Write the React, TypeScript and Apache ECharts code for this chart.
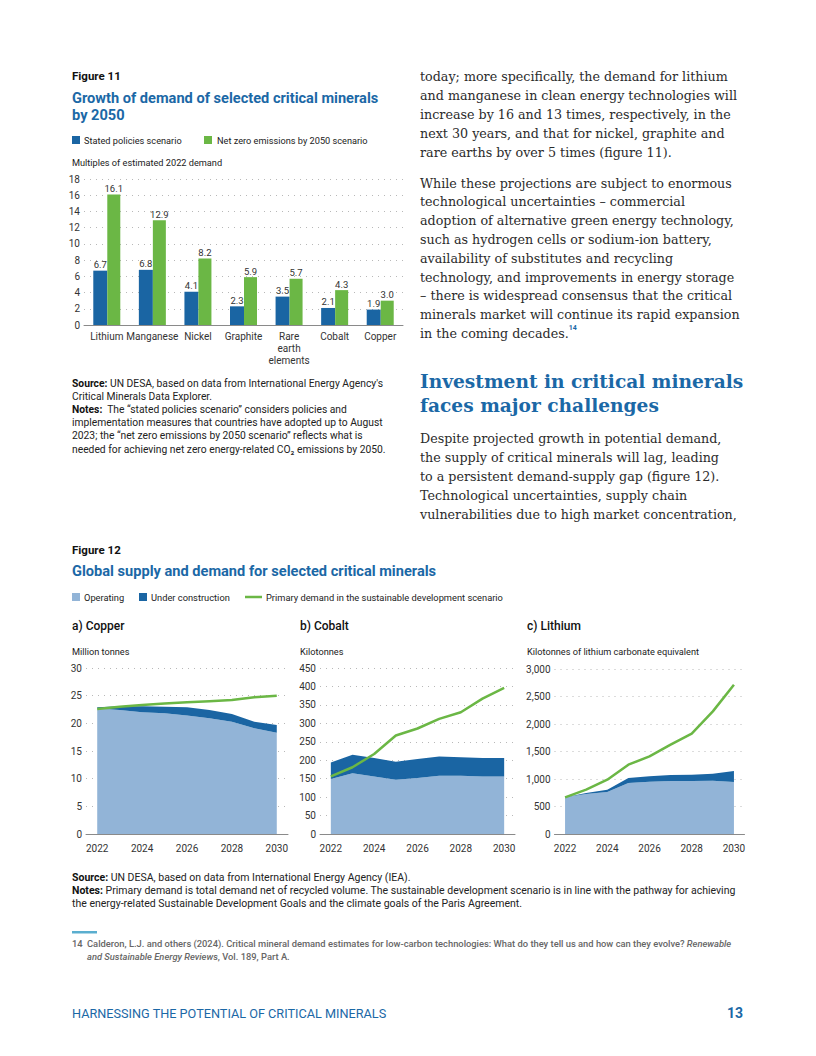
import React, { useEffect, useRef } from "react";
import * as echarts from "echarts";

// ---------- Figure 11 data ----------
const fig11Categories = ["Lithium", "Manganese", "Nickel", "Graphite", "Rare\nearth\nelements", "Cobalt", "Copper"];
const statedPolicies = [6.7, 6.8, 4.1, 2.3, 3.5, 2.1, 1.9];
const netZero = [16.1, 12.9, 8.2, 5.9, 5.7, 4.3, 3.0];

// ---------- Figure 12 data ----------
const years = ["2022", "2023", "2024", "2025", "2026", "2027", "2028", "2029", "2030"];
const copperOperating = [22.7, 22.4, 22.0, 21.8, 21.4, 20.9, 20.3, 19.1, 18.3];
const copperUnderConstruction = [0.2, 0.7, 1.1, 1.2, 1.5, 1.5, 1.4, 1.2, 1.4];
const copperDemand = [22.6, 23.0, 23.3, 23.6, 23.8, 24.0, 24.2, 24.7, 25.0];
const cobaltOperating = [149, 165, 156, 147, 152, 158, 158, 156, 156];
const cobaltUnderConstruction = [45, 50, 50, 49, 51, 52, 50, 50, 50];
const cobaltDemand = [156, 181, 217, 267, 286, 312, 330, 367, 396];
const lithiumOperating = [667, 727, 764, 927, 951, 964, 964, 966, 945];
const lithiumUnderConstruction = [0, 18, 42, 91, 97, 109, 115, 131, 200];
const lithiumDemand = [667, 806, 988, 1260, 1412, 1624, 1824, 2230, 2715];

// ---------- Page text ----------
const para1 = [
  "today; more specifically, the demand for lithium",
  "and manganese in clean energy technologies will",
  "increase by 16 and 13 times, respectively, in the",
  "next 30 years, and that for nickel, graphite and",
  "rare earths by over 5 times (figure 11).",
];
const para2 = [
  "While these projections are subject to enormous",
  "technological uncertainties – commercial",
  "adoption of alternative green energy technology,",
  "such as hydrogen cells or sodium-ion battery,",
  "availability of substitutes and recycling",
  "technology, and improvements in energy storage",
  "– there is widespread consensus that the critical",
  "minerals market will continue its rapid expansion",
];
const para2Last = "in the coming decades.";
const heading = ["Investment in critical minerals", "faces major challenges"];
const para3 = [
  "Despite projected growth in potential demand,",
  "the supply of critical minerals will lag, leading",
  "to a persistent demand-supply gap (figure 12).",
  "Technological uncertainties, supply chain",
  "vulnerabilities due to high market concentration,",
];

const BLUE = "#1b68a6";
const DARK = "#1a65a3";
const LIGHT = "#92b4d7";
const GREEN = "#6bb745";
const SANS = "Roboto, 'Noto Sans', sans-serif";
const SERIF = "'DejaVu Serif', 'Liberation Serif', serif";
const GRID_LINE = { show: true, lineStyle: { type: [1, 5] as any, color: "#b8b8b8", width: 1 } };

function txt(text: string, x: number, y: number, o: any = {}) {
  return {
    type: "text",
    silent: true,
    style: {
      text,
      x,
      y,
      fill: o.fill || "#222",
      fontSize: o.fontSize || 9,
      fontFamily: o.fontFamily || SANS,
      fontWeight: o.fontWeight || "normal",
      fontStyle: o.fontStyle || "normal",
      textAlign: o.align || "left",
      textVerticalAlign: "middle",
      rich: o.rich,
    },
  };
}

function rect(x: number, y: number, w: number, h: number, fill: string) {
  return { type: "rect", silent: true, shape: { x, y, width: w, height: h }, style: { fill } };
}

function areaChart(idx: number, op: number[], uc: number[], dem: number[], stack: string) {
  return [
    {
      name: "Operating",
      type: "line",
      xAxisIndex: idx,
      yAxisIndex: idx,
      stack,
      data: op,
      symbol: "none",
      lineStyle: { width: 0 },
      areaStyle: { color: LIGHT, opacity: 1 },
      z: 2,
    },
    {
      name: "Under construction",
      type: "line",
      xAxisIndex: idx,
      yAxisIndex: idx,
      stack,
      data: uc,
      symbol: "none",
      lineStyle: { width: 0 },
      areaStyle: { color: DARK, opacity: 1 },
      z: 2,
    },
    {
      name: "Primary demand",
      type: "line",
      xAxisIndex: idx,
      yAxisIndex: idx,
      data: dem,
      symbol: "none",
      lineStyle: { width: 2.5, color: GREEN },
      z: 5,
    },
  ];
}

export default function App() {
  const ref = useRef<HTMLDivElement>(null);
  useEffect(() => {
    if (!ref.current) return;
    const chart = echarts.init(ref.current, undefined, { renderer: "svg" });

    const axisLabelStyle = { color: "#333", fontSize: 10, fontFamily: SANS };
    const catAxis = (gridIndex: number, data: string[], extra: any = {}) => ({
      type: "category",
      gridIndex,
      data,
      boundaryGap: true,
      axisTick: { show: false },
      axisLine: { show: true, lineStyle: { color: "#8a8a8a", width: 1 } },
      axisLabel: { ...axisLabelStyle, ...extra },
    });
    const valAxis = (gridIndex: number, max: number, interval: number, fmt?: any) => ({
      type: "value",
      gridIndex,
      min: 0,
      max,
      interval,
      axisLine: { show: false },
      axisTick: { show: false },
      splitLine: GRID_LINE,
      axisLabel: { ...axisLabelStyle, margin: 4, formatter: fmt },
    });

    const graphics: any[] = [];
    // Figure 11 header
    graphics.push(txt("Figure 11", 72, 76, { fontSize: 11.5, fontWeight: "bold", fill: "#111" }));
    graphics.push(txt("Growth of demand of selected critical minerals", 72, 98, { fontSize: 14.6, fontWeight: "bold", fill: BLUE }));
    graphics.push(txt("by 2050", 72, 115, { fontSize: 14.6, fontWeight: "bold", fill: BLUE }));
    graphics.push(rect(72, 136, 8, 8, DARK));
    graphics.push(txt("Stated policies scenario", 84, 140.5, { fontSize: 9.2 }));
    graphics.push(rect(204, 136, 8, 8, GREEN));
    graphics.push(txt("Net zero emissions by 2050 scenario", 217, 140.5, { fontSize: 9.2 }));
    graphics.push(txt("Multiples of estimated 2022 demand", 72, 162, { fontSize: 9.2 }));
    // Figure 11 source
    const SRC11 = 10.3;
    const bRich = { b: { fontWeight: "bold", fontSize: SRC11, fontFamily: SANS, fill: "#111" } };
    const f11src = [
      "{b|Source:} UN DESA, based on data from International Energy Agency's",
      "Critical Minerals Data Explorer.",
      "{b|Notes:}  The “stated policies scenario” considers policies and",
      "implementation measures that countries have adopted up to August",
      "2023; the “net zero emissions by 2050 scenario” reflects what is",
      "needed for achieving net zero energy-related CO₂ emissions by 2050.",
    ];
    f11src.forEach((l, i) => graphics.push(txt(l, 72, 383 + i * 13.2, { fontSize: SRC11, rich: bRich })));

    // Right column body text
    const BODY = 12.7;
    const bodyOpt = { fontSize: BODY, fontFamily: SERIF, fill: "#2b2b2b" };
    para1.forEach((l, i) => graphics.push(txt(l, 420, 76 + i * 19.2, bodyOpt)));
    para2.forEach((l, i) => graphics.push(txt(l, 420, 183 + i * 18.8, bodyOpt)));
    graphics.push(
      txt("{n|" + para2Last + "}{s|14}", 420, 333, {
        ...bodyOpt,
        rich: {
          n: { fontSize: BODY, fontFamily: SERIF, fill: "#2b2b2b", lineHeight: 17 },
          s: { fontSize: 7, fontFamily: SANS, fontWeight: "bold", fill: BLUE, color: BLUE, verticalAlign: "top", lineHeight: 17 },
        },
      })
    );
    heading.forEach((l, i) => graphics.push(txt(l, 420, 381 + i * 24, { fontSize: 18.6, fontFamily: SERIF, fontWeight: "bold", fill: BLUE })));
    para3.forEach((l, i) => graphics.push(txt(l, 420, 438 + i * 19, bodyOpt)));

    // Figure 12 header
    graphics.push(txt("Figure 12", 72, 550, { fontSize: 11.5, fontWeight: "bold", fill: "#111" }));
    graphics.push(txt("Global supply and demand for selected critical minerals", 72, 571, { fontSize: 14.6, fontWeight: "bold", fill: BLUE }));
    graphics.push(rect(72, 593, 8, 8, LIGHT));
    graphics.push(txt("Operating", 84, 597.5, { fontSize: 9.3 }));
    graphics.push(rect(139, 593, 8, 8, DARK));
    graphics.push(txt("Under construction", 151, 597.5, { fontSize: 9.3 }));
    graphics.push({ type: "line", silent: true, shape: { x1: 245, y1: 597, x2: 262, y2: 597 }, style: { stroke: GREEN, lineWidth: 2.5 } });
    graphics.push(txt("Primary demand in the sustainable development scenario", 266, 597.5, { fontSize: 9.3 }));
    graphics.push(txt("a) Copper", 72, 626, { fontSize: 12, fontWeight: 500, fill: "#111" }));
    graphics.push(txt("b) Cobalt", 300, 626, { fontSize: 12, fontWeight: 500, fill: "#111" }));
    graphics.push(txt("c) Lithium", 527, 626, { fontSize: 12, fontWeight: 500, fill: "#111" }));
    graphics.push(txt("Million tonnes", 72, 651, { fontSize: 9.2 }));
    graphics.push(txt("Kilotonnes", 300, 651, { fontSize: 9.2 }));
    graphics.push(txt("Kilotonnes of lithium carbonate equivalent", 527, 651, { fontSize: 9.2 }));

    // Figure 12 source
    const SRC12 = 10.5;
    const f12src = [
      "{b|Source:} UN DESA, based on data from International Energy Agency (IEA).",
      "{b|Notes:} Primary demand is total demand net of recycled volume. The sustainable development scenario is in line with the pathway for achieving",
      "the energy-related Sustainable Development Goals and the climate goals of the Paris Agreement.",
    ];
    f12src.forEach((l, i) => graphics.push(txt(l, 72, 877 + i * 13, { fontSize: SRC12, rich: { b: { fontWeight: "bold", fontSize: SRC12, fontFamily: SANS, fill: "#111" } } })));

    // Footnote
    graphics.push(rect(72, 931, 25, 2.5, "#5aaecf"));
    const FN = 9.35;
    const fnOpt = { fontSize: FN, fill: "#666", fontWeight: 500 };
    const iRich = { i: { fontStyle: "italic", fontSize: FN, fill: "#666", fontWeight: 500, fontFamily: SANS } };
    graphics.push(txt("14", 72, 943, fnOpt));
    graphics.push(
      txt("Calderon, L.J. and others (2024). Critical mineral demand estimates for low-carbon technologies: What do they tell us and how can they evolve? {i|Renewable}", 87, 943, {
        ...fnOpt,
        rich: iRich,
      })
    );
    graphics.push(txt("{i|and Sustainable Energy Reviews}, Vol. 189, Part A.", 87, 956, { ...fnOpt, rich: iRich }));

    // Footer
    graphics.push(txt("HARNESSING THE POTENTIAL OF CRITICAL MINERALS", 72, 1013, { fontSize: 12.7, fill: BLUE }));
    graphics.push(txt("13", 743, 1013, { fontSize: 14, fontWeight: "bold", fill: BLUE, align: "right" }));

    const barLabel = {
      show: true,
      position: "top",
      distance: 1,
      color: "#333",
      fontSize: 9.5,
      fontFamily: SANS,
      formatter: (p: any) => Number(p.value).toFixed(1),
    };

    chart.setOption({
      animation: false,
      textStyle: { fontFamily: SANS },
      grid: [
        { left: 84, width: 319, top: 179, height: 146 },
        { left: 86, width: 202, top: 668, height: 166 },
        { left: 320, width: 195, top: 668, height: 166 },
        { left: 554.5, width: 190, top: 669, height: 165 },
      ],
      xAxis: [
        catAxis(0, fig11Categories, { margin: 5, lineHeight: 12, interval: 0 }),
        catAxis(1, years, { margin: 9, interval: 1 }),
        catAxis(2, years, { margin: 9, interval: 1 }),
        catAxis(3, years, { margin: 9, interval: 1 }),
      ],
      yAxis: [
        valAxis(0, 18, 2),
        valAxis(1, 30, 5),
        valAxis(2, 450, 50),
        valAxis(3, 3000, 500, (v: number) => v.toLocaleString("en-US")),
      ],
      series: [
        {
          name: "Stated policies scenario",
          type: "bar",
          xAxisIndex: 0,
          yAxisIndex: 0,
          data: statedPolicies,
          barWidth: 14,
          barGap: "0%",
          itemStyle: { color: DARK },
          label: barLabel,
        },
        {
          name: "Net zero emissions by 2050 scenario",
          type: "bar",
          xAxisIndex: 0,
          yAxisIndex: 0,
          data: netZero,
          barWidth: 13,
          barGap: "0%",
          itemStyle: { color: GREEN },
          label: barLabel,
        },
        ...areaChart(1, copperOperating, copperUnderConstruction, copperDemand, "cu"),
        ...areaChart(2, cobaltOperating, cobaltUnderConstruction, cobaltDemand, "co"),
        ...areaChart(3, lithiumOperating, lithiumUnderConstruction, lithiumDemand, "li"),
      ],
      graphic: graphics,
    });
    return () => chart.dispose();
  }, []);
  return (
    <div
      ref={ref}
      style={{ position: "absolute", left: 0, top: 0, width: 816, height: 1056, background: "#fff" }}
    />
  );
}
